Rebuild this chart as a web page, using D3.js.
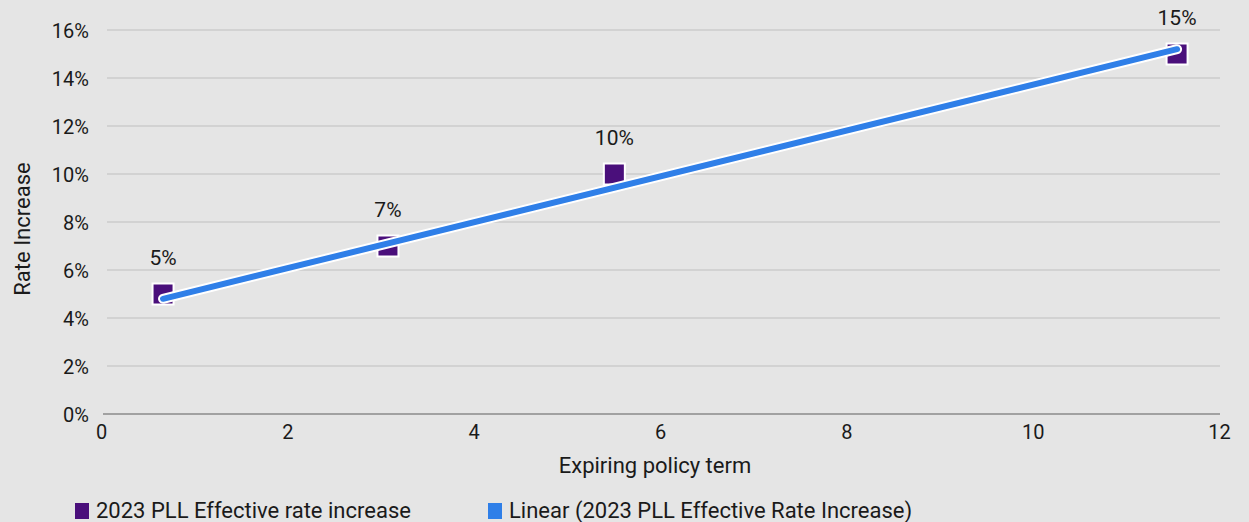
<!DOCTYPE html>
<html>
<head>
<meta charset="utf-8">
<script src="https://cdn.jsdelivr.net/npm/d3@7"></script>
<style>
  html, body { margin: 0; padding: 0; background: #e5e5e5; }
  svg { display: block; font-family: "Roboto", "Inter", sans-serif; }
</style>
</head>
<body>
<svg id="chart" width="1249" height="522"></svg>
<script>
// Policy term (x) vs. effective rate increase (y, percent)
const termValues = [0.666, 3.08, 5.51, 11.55];
const rateValues = [5, 7, 10, 15];
const rateLabels = ["5%", "7%", "10%", "15%"];

// Linear trendline endpoints
const trendTerm = [0.666, 11.55];
const trendRate = [4.8, 15.2];

const xTicks = [0, 2, 4, 6, 8, 10, 12];
const yTicks = [0, 2, 4, 6, 8, 10, 12, 14, 16];

const legendNames = ["2023 PLL Effective rate increase", "Linear (2023 PLL Effective Rate Increase)"];

const purple = "#4a0f7b";
const blue = "#2f7fe8";
const ink = "#1a1a1a";
const tickSize = 20;
const titleSize = 22;

const svg = d3.select("#chart");

const x = d3.scaleLinear().domain([0, 12]).range([101, 1219]);
const y = d3.scaleLinear().domain([0, 16]).range([414, 30]);

// Horizontal gridlines
svg.append("g")
  .selectAll("line")
  .data(yTicks.filter(d => d > 0))
  .join("line")
  .attr("x1", 107).attr("x2", 1220)
  .attr("y1", d => y(d)).attr("y2", d => y(d))
  .attr("stroke", "#cbcbcb").attr("stroke-width", 1.3);

// Y axis labels
const yAxis = d3.axisLeft(y).tickValues(yTicks).tickFormat(d => d + "%").tickSize(0).tickPadding(0);
svg.append("g")
  .attr("transform", "translate(89,1)")
  .call(yAxis)
  .call(g => g.select(".domain").remove())
  .selectAll("text")
  .attr("font-size", tickSize).attr("fill", ink)
  .attr("font-family", "Roboto, Inter, sans-serif");

// X axis
const xAxis = d3.axisBottom(x).tickValues(xTicks).tickSize(0).tickPadding(0);
svg.append("g")
  .attr("transform", "translate(0,425)")
  .call(xAxis)
  .call(g => g.select(".domain").remove())
  .selectAll("text")
  .attr("font-size", tickSize).attr("fill", ink)
  .attr("font-family", "Roboto, Inter, sans-serif");

svg.append("line")
  .attr("x1", 103).attr("x2", 1220)
  .attr("y1", y(0)).attr("y2", y(0))
  .attr("stroke", "#8a8a8a").attr("stroke-width", 1.3);

// Axis titles
svg.append("text")
  .attr("x", 655).attr("y", 473)
  .attr("text-anchor", "middle")
  .attr("font-size", titleSize).attr("fill", ink)
  .text("Expiring policy term");

svg.append("text")
  .attr("transform", `translate(30,${229}) rotate(-90)`)
  .attr("text-anchor", "middle")
  .attr("font-size", titleSize).attr("fill", ink)
  .text("Rate Increase");

// Data points
const points = termValues.map((t, i) => ({ t, r: rateValues[i], label: rateLabels[i] }));
const sq = 21;
svg.append("g")
  .selectAll("rect")
  .data(points)
  .join("rect")
  .attr("x", d => x(d.t) - sq / 2)
  .attr("y", d => y(d.r) - sq / 2)
  .attr("width", sq).attr("height", sq)
  .attr("fill", purple)
  .attr("stroke", "#ffffff").attr("stroke-width", 2);

// Trendline: white casing under blue stroke
const trend = trendTerm.map((t, i) => [x(t), y(trendRate[i])]);
const line = d3.line();
svg.append("path")
  .attr("d", line(trend))
  .attr("stroke", "#ffffff").attr("stroke-width", 10)
  .attr("stroke-linecap", "round").attr("fill", "none");
svg.append("path")
  .attr("d", line(trend))
  .attr("stroke", blue).attr("stroke-width", 6)
  .attr("stroke-linecap", "round").attr("fill", "none");

// Value labels
svg.append("g")
  .selectAll("text")
  .data(points)
  .join("text")
  .attr("x", d => x(d.t))
  .attr("y", d => y(d.r) - 36)
  .attr("dy", "0.35em")
  .attr("text-anchor", "middle")
  .attr("font-size", 21).attr("fill", ink)
  .text(d => d.label);

// Legend
const legend = svg.append("g");
const legendX = [75, 488];
const legendColors = [purple, blue];
legendNames.forEach((name, i) => {
  legend.append("rect")
    .attr("x", legendX[i]).attr("y", 503)
    .attr("width", 14).attr("height", 16)
    .attr("fill", legendColors[i]);
  legend.append("text")
    .attr("x", legendX[i] + 21).attr("y", 518)
    .attr("font-size", titleSize).attr("fill", ink)
    .text(name);
});
</script>
</body>
</html>
